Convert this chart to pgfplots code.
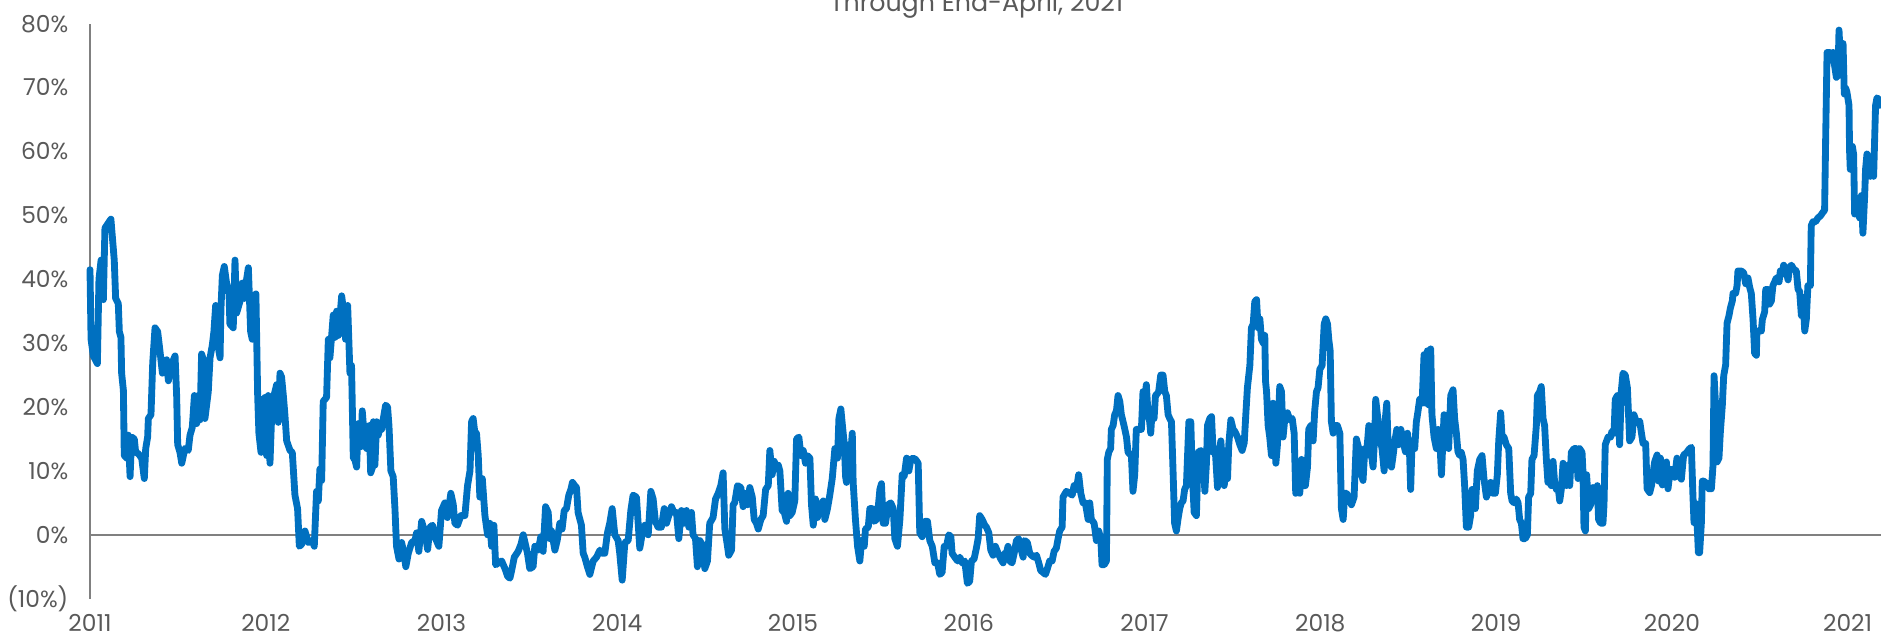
\documentclass[border=0pt]{standalone}
\usepackage{fontspec}
\setmainfont{Poppins}
\usepackage{pgfplots}
\pgfplotsset{compat=1.18}
\usepackage{pgfplotstable}
\definecolor{serblue}{RGB}{0,112,192}
\definecolor{txtgray}{RGB}{89,89,89}
\definecolor{axgray}{RGB}{128,128,128}
\pgfplotstableread{
x y
2011.000 41.5
2011.006 30.6
2011.019 28
2011.042 26.8
2011.051 40
2011.063 43
2011.076 36.8
2011.085 48
2011.104 48.8
2011.119 49.4
2011.138 43
2011.146 37
2011.161 36.2
2011.167 31.8
2011.176 30.9
2011.180 25.3
2011.190 22.6
2011.195 12.4
2011.209 12
2011.218 15.6
2011.228 9.1
2011.237 15.3
2011.252 15
2011.260 12.9
2011.275 12.7
2011.294 12
2011.309 8.8
2011.317 13.5
2011.328 15.3
2011.332 18.2
2011.347 18.8
2011.357 27
2011.370 32.4
2011.385 31.8
2011.398 28.8
2011.412 25.3
2011.436 27.4
2011.446 24.1
2011.461 26.5
2011.484 28
2011.493 21.8
2011.499 14.1
2011.512 12.9
2011.522 11.2
2011.540 13.5
2011.559 13.2
2011.569 15.6
2011.582 16.8
2011.594 21.8
2011.607 17.4
2011.616 21.8
2011.626 18
2011.635 28.3
2011.645 27.4
2011.654 18.2
2011.673 22.4
2011.683 27.7
2011.696 29.7
2011.705 31.8
2011.715 35.9
2011.726 30
2011.740 27.7
2011.745 35.3
2011.753 40.6
2011.764 42
2011.777 39.4
2011.791 37.7
2011.796 33
2011.815 32.4
2011.825 43
2011.834 34.7
2011.853 36.5
2011.867 39.4
2011.878 37
2011.891 40
2011.901 41.8
2011.914 31.8
2011.923 30.6
2011.933 37.4
2011.944 37.7
2011.954 21.8
2011.961 15.9
2011.973 12.9
2011.980 21.2
2011.990 14.1
2011.995 21.5
2012.005 12.4
2012.014 21.8
2012.024 11.2
2012.033 18.2
2012.047 21.8
2012.062 23.5
2012.071 17.6
2012.081 25.3
2012.090 24.7
2012.100 21.8
2012.109 18.8
2012.119 14.7
2012.138 13.2
2012.151 12.9
2012.166 6.2
2012.181 4.1
2012.191 -1.8
2012.204 -1.5
2012.215 -0.6
2012.223 0.6
2012.242 -1.2
2012.265 -0.9
2012.276 -1.8
2012.289 6.8
2012.299 5.3
2012.308 10.3
2012.318 8.5
2012.327 20.9
2012.346 21.5
2012.356 30.6
2012.365 27.7
2012.375 31.2
2012.384 34.4
2012.394 30.9
2012.403 35
2012.413 31.2
2012.432 37.4
2012.447 34.1
2012.454 30.6
2012.466 35.9
2012.479 25.3
2012.488 26.5
2012.498 12
2012.507 11.8
2012.517 10.6
2012.526 17.4
2012.542 13.8
2012.549 19.4
2012.564 14.1
2012.574 13.5
2012.589 17.1
2012.597 9.7
2012.608 10.6
2012.612 17.7
2012.621 10.9
2012.631 17.7
2012.640 15.6
2012.650 16.8
2012.659 16.5
2012.669 18.2
2012.682 20.3
2012.693 20
2012.701 17.1
2012.712 10
2012.725 9.1
2012.735 4.1
2012.744 -1.8
2012.758 -3.8
2012.773 -1.2
2012.786 -2.9
2012.797 -5
2012.811 -2.9
2012.830 -1.2
2012.849 -0.9
2012.858 0.3
2012.871 -2.6
2012.887 2.1
2012.906 0.3
2012.921 -2.3
2012.934 1.2
2012.949 1.5
2012.966 -0.6
2012.985 -1.8
2013.000 3.8
2013.019 5
2013.034 2.7
2013.053 6.5
2013.067 4.7
2013.076 1.8
2013.091 1.5
2013.110 3
2013.133 3
2013.148 7.7
2013.162 10
2013.171 17.7
2013.180 18.2
2013.190 15.9
2013.199 15.9
2013.209 12.4
2013.218 5.9
2013.232 8.8
2013.247 3
2013.262 0
2013.275 1.8
2013.285 -1.8
2013.298 1.5
2013.308 -4.7
2013.323 -4.4
2013.342 -4.1
2013.361 -5.3
2013.376 -6.5
2013.389 -6.8
2013.399 -5.6
2013.414 -3.5
2013.436 -2.6
2013.452 -1.5
2013.465 0
2013.489 -2.9
2013.502 -5.3
2013.521 -5
2013.531 -1.8
2013.550 -2.4
2013.565 -0.3
2013.578 -2.6
2013.592 4.4
2013.607 3.5
2013.616 -0.6
2013.626 0.6
2013.645 -2.4
2013.658 -0.9
2013.673 1.8
2013.686 0.9
2013.698 3.8
2013.711 4.1
2013.724 6.2
2013.736 7.1
2013.745 8.2
2013.758 7.7
2013.768 7.4
2013.777 3.5
2013.796 1.5
2013.806 -2.9
2013.815 -3.5
2013.830 -5
2013.844 -6.2
2013.863 -4.1
2013.882 -3.5
2013.901 -2.4
2013.914 -2.9
2013.929 -2.9
2013.944 0.3
2013.957 1.8
2013.971 4.1
2013.986 0
2014.005 -0.9
2014.014 -2.9
2014.028 -7.1
2014.043 -1.2
2014.062 -0.9
2014.077 3.8
2014.090 6.2
2014.109 5.9
2014.128 -2.1
2014.141 0
2014.157 1.5
2014.176 0
2014.191 6.8
2014.204 5.6
2014.217 2.1
2014.232 1.2
2014.251 1.2
2014.267 4.1
2014.280 1.8
2014.293 3
2014.308 4.4
2014.323 3.5
2014.337 3.5
2014.350 -0.6
2014.365 3.8
2014.380 1.8
2014.394 3.8
2014.407 1.2
2014.422 3.5
2014.431 0
2014.445 -0.6
2014.456 -5
2014.469 -0.9
2014.483 -1.5
2014.498 -5.3
2014.513 -4.1
2014.526 1.8
2014.545 2.7
2014.559 5.6
2014.574 6.5
2014.589 7.7
2014.602 9.7
2014.612 0.9
2014.627 -1.8
2014.634 -3.2
2014.650 -2.4
2014.659 4.7
2014.668 5
2014.684 7.7
2014.703 7.4
2014.716 4.4
2014.726 6.5
2014.741 4.7
2014.754 7.4
2014.768 5.9
2014.779 2.4
2014.792 1.8
2014.802 0.9
2014.817 2.4
2014.830 3
2014.844 7.1
2014.859 7.7
2014.868 13.2
2014.881 9.4
2014.893 11.5
2014.906 10.3
2014.916 10.9
2014.925 10
2014.938 3.8
2014.950 3.5
2014.963 2.1
2014.972 6.5
2014.982 3
2014.995 3.5
2015.010 5.3
2015.020 15
2015.033 15.3
2015.045 12.4
2015.058 13.2
2015.071 11.2
2015.082 12.4
2015.096 12
2015.105 4.7
2015.115 1.5
2015.128 5.6
2015.139 2.7
2015.153 4.4
2015.172 5.3
2015.181 2.4
2015.196 4.1
2015.209 6.2
2015.223 8.8
2015.238 13.5
2015.253 12
2015.261 18.2
2015.272 19.7
2015.282 16.8
2015.291 14.4
2015.299 9.1
2015.304 8.2
2015.318 14.1
2015.329 12.9
2015.337 15.9
2015.342 8.2
2015.355 2.4
2015.367 -1.8
2015.380 -4.1
2015.390 -0.9
2015.405 -1.8
2015.412 0.9
2015.428 1.2
2015.437 4.1
2015.450 4.1
2015.462 2.1
2015.475 2.4
2015.484 4.1
2015.494 7.1
2015.503 8
2015.513 1.8
2015.526 1.8
2015.541 4.7
2015.556 5
2015.570 4.1
2015.579 -0.6
2015.594 -1.8
2015.608 2.4
2015.621 9.4
2015.632 9.1
2015.646 12
2015.659 10
2015.670 11.8
2015.683 12
2015.697 11.8
2015.712 11.2
2015.721 0.3
2015.735 -0.3
2015.750 2.1
2015.765 2.1
2015.778 -0.9
2015.792 -1.8
2015.807 -4.4
2015.822 -4.4
2015.835 -6.2
2015.848 -5.9
2015.860 -1.8
2015.873 -1.8
2015.886 0
2015.898 -0.3
2015.905 -2.9
2015.920 -3.5
2015.936 -4.1
2015.949 -3.5
2015.962 -4.4
2015.977 -4.1
2015.992 -7.6
2016.005 -7.3
2016.015 -4.1
2016.030 -3.8
2016.043 -2.1
2016.053 -0.6
2016.062 3
2016.076 2.4
2016.091 1.5
2016.100 1.2
2016.114 0.3
2016.125 -2.4
2016.138 -3.2
2016.151 -1.8
2016.167 -2.9
2016.182 -3.8
2016.195 -4.4
2016.205 -2.9
2016.214 -2.9
2016.223 -1.8
2016.233 -4.1
2016.246 -4.4
2016.258 -2.9
2016.271 -0.9
2016.284 -0.6
2016.296 -2.1
2016.309 -3.5
2016.318 -0.9
2016.333 -1.2
2016.347 -2.9
2016.356 -3.2
2016.371 -3.5
2016.385 -3.2
2016.398 -4.4
2016.409 -5.6
2016.423 -5.9
2016.436 -6.2
2016.447 -5.3
2016.460 -4.1
2016.474 -4.1
2016.485 -2.6
2016.498 -2.1
2016.508 -0.6
2016.517 0.6
2016.531 1.2
2016.536 5.9
2016.555 6.8
2016.574 6.5
2016.588 6.2
2016.599 7.7
2016.612 7.1
2016.625 9.4
2016.637 6.5
2016.650 5
2016.663 5
2016.679 2.4
2016.688 5
2016.697 2.4
2016.713 1.8
2016.726 -0.9
2016.739 0.6
2016.751 -0.6
2016.758 -4.7
2016.770 -4.7
2016.783 -4.1
2016.788 11.8
2016.796 12.9
2016.807 13.5
2016.811 16.5
2016.821 17.1
2016.830 18.8
2016.840 19.4
2016.849 21.8
2016.859 20.9
2016.868 18.8
2016.883 17.1
2016.897 15.3
2016.906 12.9
2016.925 12.4
2016.934 6.8
2016.944 9.4
2016.953 16.5
2016.967 16.5
2016.982 16.5
2016.991 22.4
2017.001 21.2
2017.010 23.5
2017.020 18.8
2017.029 17.7
2017.035 15.9
2017.043 19.4
2017.054 18.2
2017.062 21.8
2017.073 22.1
2017.080 22.4
2017.092 25
2017.105 25
2017.115 22.4
2017.124 21.8
2017.134 18.8
2017.143 18.2
2017.153 17.7
2017.162 10
2017.171 1.8
2017.181 0.6
2017.190 2.4
2017.200 4.1
2017.209 5
2017.219 5.3
2017.228 7.1
2017.238 7.7
2017.252 17.7
2017.263 17.7
2017.271 10
2017.282 3.5
2017.295 3
2017.305 12.9
2017.320 13.2
2017.333 11.8
2017.343 6.8
2017.352 11.2
2017.358 17.1
2017.371 18.2
2017.381 18.5
2017.390 12.9
2017.403 12.9
2017.415 7.4
2017.424 12.9
2017.434 14.7
2017.443 11.2
2017.453 7.7
2017.460 9.4
2017.472 8.8
2017.479 14.1
2017.491 18
2017.504 16.5
2017.513 16.2
2017.529 15.3
2017.542 14.1
2017.555 13.2
2017.567 14.4
2017.576 18.8
2017.585 23
2017.599 26.5
2017.608 32.4
2017.618 33
2017.627 36.5
2017.637 36.8
2017.646 32.4
2017.656 33.8
2017.665 30.6
2017.675 30
2017.684 31.2
2017.688 24.1
2017.694 22.4
2017.703 17.1
2017.712 15.3
2017.722 12.4
2017.731 20.6
2017.737 16.5
2017.747 11.2
2017.756 14.1
2017.769 23.2
2017.779 22.4
2017.788 15.3
2017.798 18.2
2017.813 19.1
2017.826 18
2017.840 18.2
2017.851 15.9
2017.860 6.5
2017.874 7.1
2017.883 6.5
2017.893 11.8
2017.902 7.7
2017.915 7.7
2017.927 10.6
2017.934 16.5
2017.946 17.1
2017.959 14.7
2017.968 19.4
2017.978 22.4
2017.987 23
2017.997 25.9
2018.010 26.5
2018.022 33
2018.031 33.8
2018.041 33
2018.048 30.6
2018.056 28.8
2018.063 17.7
2018.073 15.9
2018.082 17.1
2018.097 17.1
2018.111 15.9
2018.120 4.1
2018.130 2.4
2018.139 6.5
2018.149 6.5
2018.162 5.9
2018.177 4.7
2018.192 5.9
2018.205 15
2018.219 13.5
2018.230 10
2018.243 8.5
2018.253 13.5
2018.262 12.4
2018.276 17.1
2018.287 13.5
2018.300 10.6
2018.310 15.9
2018.315 21.2
2018.329 17.7
2018.338 15.3
2018.351 13.5
2018.363 10
2018.370 18.2
2018.378 20.6
2018.389 11.2
2018.405 10.6
2018.414 12.4
2018.424 14.7
2018.435 16.5
2018.446 14.1
2018.458 16.5
2018.471 14.7
2018.484 13
2018.496 15.9
2018.508 12.4
2018.514 7.1
2018.522 14.7
2018.537 13.5
2018.546 17.6
2018.556 19.4
2018.565 21.2
2018.579 20.6
2018.590 28.2
2018.598 20.6
2018.609 28.8
2018.618 20.3
2018.628 29.1
2018.635 18.8
2018.647 15.3
2018.660 13.5
2018.670 16.5
2018.679 15.3
2018.689 9.4
2018.704 18.8
2018.717 15.9
2018.730 13.5
2018.742 21.8
2018.755 22.7
2018.764 18.2
2018.774 15.9
2018.783 13
2018.793 12.4
2018.802 12.9
2018.812 11.8
2018.821 7.7
2018.831 1.2
2018.844 1.2
2018.855 3
2018.863 7.1
2018.874 7.1
2018.882 4.1
2018.893 10
2018.907 11.8
2018.920 12.4
2018.931 8.8
2018.945 5.9
2018.958 7.1
2018.969 8.2
2018.982 6.5
2018.996 6.5
2019.007 9.4
2019.015 14.7
2019.026 19.1
2019.034 15.3
2019.045 15.3
2019.058 14.1
2019.072 13.5
2019.083 6.5
2019.091 5.3
2019.102 5
2019.115 5.6
2019.125 5
2019.134 2.4
2019.144 1.8
2019.153 -0.6
2019.166 -0.6
2019.178 0
2019.185 5.9
2019.197 6.5
2019.204 11.8
2019.216 12.4
2019.229 17.1
2019.235 21.8
2019.248 22.4
2019.257 23.2
2019.267 18.2
2019.276 17.1
2019.286 11.8
2019.295 8.2
2019.305 8.2
2019.314 7.7
2019.324 11.5
2019.333 8.2
2019.343 7.1
2019.352 7.7
2019.362 5.3
2019.371 7.1
2019.381 11.2
2019.390 8.8
2019.400 7.7
2019.409 10.9
2019.419 7.7
2019.428 12.9
2019.443 13.5
2019.456 13.5
2019.466 8.8
2019.475 13.5
2019.489 12.9
2019.494 10
2019.500 1.2
2019.508 0.6
2019.515 9.4
2019.527 4.1
2019.538 4.7
2019.551 7.4
2019.561 5.3
2019.576 7.7
2019.583 2.4
2019.595 1.8
2019.608 1.8
2019.614 4.7
2019.621 14.1
2019.637 15.3
2019.652 15.3
2019.659 16.2
2019.671 15.9
2019.678 21.2
2019.690 21.8
2019.703 14.1
2019.712 22.4
2019.722 25.3
2019.735 25
2019.747 23
2019.760 14.7
2019.773 15.3
2019.784 18.8
2019.800 17.5
2019.817 17.8
2019.826 16.1
2019.836 14.3
2019.851 14.3
2019.859 7.2
2019.874 6.6
2019.885 7.8
2019.893 9.6
2019.902 11.4
2019.916 12.5
2019.925 8.4
2019.935 12
2019.946 7.8
2019.959 10.8
2019.969 11.4
2019.978 7.2
2019.991 10.2
2020.003 10.2
2020.016 9
2020.029 12
2020.041 9.3
2020.054 8.7
2020.067 12.5
2020.082 12.8
2020.098 13.4
2020.111 13.7
2020.120 6.1
2020.126 1.9
2020.136 4.9
2020.145 0.8
2020.151 -2.8
2020.158 -2.8
2020.168 1.9
2020.173 8.4
2020.181 8.4
2020.196 8.1
2020.211 7.2
2020.225 7.2
2020.234 10.8
2020.240 24.9
2020.249 20.2
2020.257 11.4
2020.268 12
2020.276 16.1
2020.287 20.2
2020.295 24.9
2020.306 26.6
2020.314 33.1
2020.325 34.3
2020.333 35.5
2020.344 36.6
2020.348 37.8
2020.363 37.8
2020.371 39
2020.376 41.3
2020.395 41.3
2020.409 41
2020.420 39.3
2020.433 40.2
2020.443 38.7
2020.452 37.8
2020.462 33.7
2020.471 28.4
2020.481 28.1
2020.484 31.9
2020.500 31.9
2020.509 31.9
2020.515 33.7
2020.528 34.9
2020.534 38.4
2020.547 38.4
2020.556 36.1
2020.566 36.6
2020.575 39
2020.585 39.6
2020.594 40.2
2020.610 39.6
2020.617 41.3
2020.629 40.8
2020.636 42.2
2020.651 41.3
2020.661 39.9
2020.670 41.9
2020.680 42.2
2020.693 41.6
2020.708 41.3
2020.718 38.4
2020.727 38.1
2020.737 34.3
2020.746 37.2
2020.756 31.9
2020.765 33.7
2020.774 39
2020.788 39
2020.793 48.4
2020.803 49
2020.818 49
2020.831 49.6
2020.845 49.9
2020.860 50.5
2020.869 50.8
2020.875 61.9
2020.883 75.5
2020.898 75.5
2020.907 74.3
2020.917 75.5
2020.926 73.4
2020.936 71.6
2020.945 71.9
2020.951 79
2020.958 74.9
2020.966 71.9
2020.974 76.9
2020.981 69
2020.989 69.9
2020.996 69.3
2021.008 67.2
2021.011 60.2
2021.015 57.2
2021.027 60.8
2021.034 59.6
2021.040 50.2
2021.049 50.2
2021.059 51.9
2021.068 49.6
2021.078 53.1
2021.087 47.2
2021.097 53.1
2021.102 57.2
2021.110 59.6
2021.121 59
2021.129 56.1
2021.140 59
2021.148 56.1
2021.159 67.2
2021.167 68.4
2021.178 68.1
2021.186 67.2
2021.200 67.5
}\datatable
\begin{document}
\begin{tikzpicture}
\begin{axis}[
  at={(0,0)}, anchor=south west,
  scale only axis, width=537.3pt, height=172.5pt,
  xmin=2011, xmax=2021.19, ymin=-10, ymax=80,
  axis lines*=left,
  x axis line style={draw=none},
  y axis line style={axgray, line width=0.6pt},
  tick style={draw=none},
  xtick={2011,2012,2013,2014,2015,2016,2017,2018,2019,2020,2021},
  xticklabels={2011,2012,2013,2014,2015,2016,2017,2018,2019,2020,2021},
  ytick={-10,0,10,20,30,40,50,60,70,80},
  yticklabels={(10\%),0\%,10\%,20\%,30\%,40\%,50\%,60\%,70\%,80\%},
  ticklabel style={font=\fontsize{7}{8}\selectfont, text=txtgray, inner sep=0pt},
  xticklabel style={anchor=north, yshift=-4.5pt},
  yticklabel style={anchor=east, xshift=-6.3pt},
  clip=false,
]
\addplot[axgray, line width=0.6pt, forget plot] coordinates {(2011,0) (2021.19,0)};
\addplot[serblue, line width=2.05pt, line join=round, line cap=round, mark=none] table[x=x,y=y] {\datatable};
\node[font=\fontsize{7.6}{8}\selectfont, text=txtgray, anchor=base, inner sep=0pt] at (axis description cs:0.495,1) [yshift=3.7pt] {Through End-April, 2021};
\end{axis}
\pgfresetboundingbox
\path[use as bounding box] (-27pt,-11.7pt) rectangle (537.3pt,179.6pt);
\end{tikzpicture}
\end{document}
